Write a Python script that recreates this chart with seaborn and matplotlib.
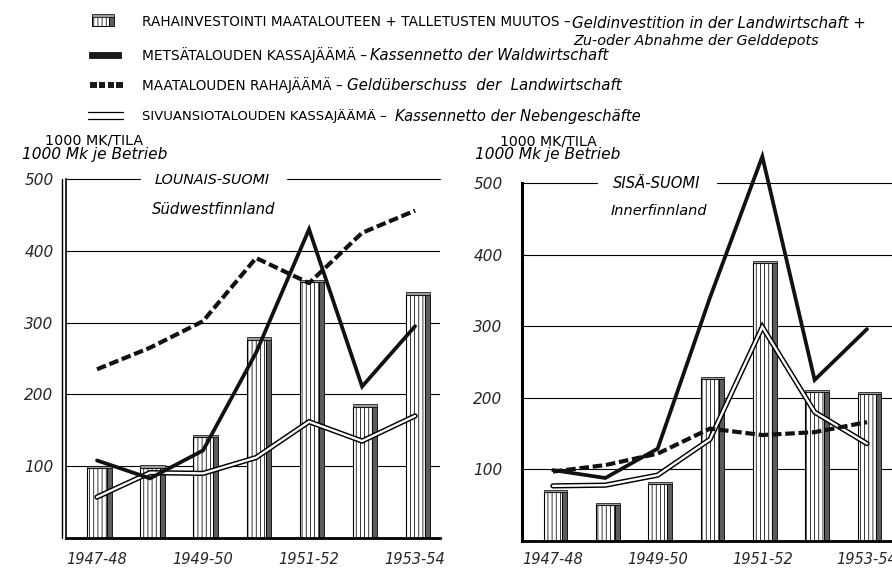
import numpy as np
import matplotlib
matplotlib.use("Agg")
import matplotlib.pyplot as plt
import seaborn as sns
import matplotlib.patheffects as pe
from matplotlib.lines import Line2D
from matplotlib.patches import Rectangle

# ---------------- data ----------------
periods = ["1947-48", "1948-49", "1949-50", "1950-51", "1951-52", "1952-53", "1953-54"]
shown_ticks = ["1947-48", "1949-50", "1951-52", "1953-54"]
y_ticks = [100, 200, 300, 400, 500]

# Lounais-Suomi / Südwestfinnland
sw_invest = [97, 98, 140, 276, 356, 183, 339]
sw_forest = [108, 83, 122, 258, 430, 211, 295]
sw_agri = [235, 265, 302, 390, 355, 425, 456]
sw_side = [57, 91, 90, 112, 162, 135, 170]

# Sisä-Suomi / Innerfinnland
in_invest = [68, 50, 79, 226, 388, 208, 205]
in_forest = [99, 88, 129, 340, 537, 225, 296]
in_agri = [97, 106, 122, 157, 148, 152, 166]
in_side = [77, 78, 92, 142, 299, 180, 136]

# ---------------- style ----------------
sns.set_theme(style="white")
plt.rcParams["font.family"] = ["DejaVu Sans"]
plt.rcParams["hatch.linewidth"] = 0.55

W, H = 892, 571
fig = plt.figure(figsize=(W / 100, H / 100), dpi=100)
renderer = fig.canvas.get_renderer()


def fx(x):
    return x / W


def fy(y):
    return 1 - y / H


def put(x0, x1, y, s, italic=False, max_size=None):
    t = fig.text(fx(x0), fy(y), s, fontsize=10, color="black",
                 style="italic" if italic else "normal", ha="left", va="center")
    w = t.get_window_extent(renderer).width
    size = 10 * (x1 - x0) / w
    if max_size is not None and size > max_size:
        size = max_size
    t.set_fontsize(size)
    return t


FACE_W = 0.36
SIDE_W = 0.095


def panel(rect, xlim, inv, forest, agri, side, title, sub, title_px, sub_px,
          gap, unit_px, ytick_pad, xtick_pad, double_axis):
    x0, ytop, x1, ybot = rect
    ax = fig.add_axes([fx(x0), fy(ybot), (x1 - x0) / W, (ybot - ytop) / H])
    ax.set_facecolor("white")
    pos = np.arange(len(periods))

    # bars: hatched front face via seaborn, dark side + cap on the same scale
    sns.barplot(x=periods, y=inv, ax=ax, width=FACE_W, color="white",
                saturation=1, edgecolor="black", linewidth=0.8, hatch="||||",
                zorder=2)
    ax.bar(pos + FACE_W / 2 + SIDE_W / 2, inv, width=SIDE_W, color="#5c5c5c",
           edgecolor="black", linewidth=0.6, zorder=2)
    ax.bar(pos + SIDE_W / 2, [3.5] * len(pos), bottom=inv, width=FACE_W + SIDE_W,
           color="#9a9a9a", edgecolor="black", linewidth=0.5, zorder=2.1)

    # lines
    ax.plot(pos, side, color="white", lw=1.7, clip_on=False, zorder=3.5,
            solid_joinstyle="miter",
            path_effects=[pe.Stroke(linewidth=3.8, foreground="black"), pe.Normal()])
    ax.plot(pos, agri, color="#111111", lw=3.0, dashes=(2.3, 0.9),
            dash_capstyle="butt", clip_on=False, zorder=4)
    ax.plot(pos, forest, color="#111111", lw=2.7, solid_joinstyle="miter",
            clip_on=False, zorder=4.2)

    ax.set_xlim(*xlim)
    ax.set_ylim(0, 500)

    # grid lines (the top one is interrupted by the region title)
    for v in y_ticks[:-1]:
        ax.axhline(v, color="black", lw=0.8, zorder=0.5)
    tr = ax.get_yaxis_transform()
    ax.plot([0, gap[0]], [500, 500], transform=tr, color="black", lw=0.8,
            clip_on=False, zorder=0.5)
    ax.plot([gap[1], 1], [500, 500], transform=tr, color="black", lw=0.8,
            clip_on=False, zorder=0.5)

    ax.set_yticks(y_ticks)
    ax.set_yticklabels([str(v) for v in y_ticks], fontsize=11, style="italic")
    ax.set_xticks([periods.index(p) for p in shown_ticks])
    ax.set_xticklabels(shown_ticks, fontsize=10.5, style="italic")
    ax.tick_params(axis="y", length=0, pad=ytick_pad)
    ax.tick_params(axis="x", length=0, pad=xtick_pad)
    ax.set_xlabel("")
    ax.set_ylabel("")

    for s in ["top", "right"]:
        ax.spines[s].set_visible(False)
    ax.spines["left"].set_color("black")
    ax.spines["bottom"].set_color("black")
    ax.spines["bottom"].set_linewidth(2.0)
    if double_axis:
        ax.spines["left"].set_linewidth(1.2)
        ax.plot([-0.012, -0.012], [0, 1], transform=ax.transAxes, color="black",
                lw=1.0, clip_on=False)
    else:
        ax.spines["left"].set_linewidth(2.2)

    # titles and unit labels
    put(title_px[0], title_px[1], title_px[2], title, italic=True)
    put(sub_px[0], sub_px[1], sub_px[2], sub, italic=True)
    put(unit_px[0], unit_px[1], unit_px[2], "1000 MK/TILA")
    put(unit_px[3], unit_px[4], unit_px[5], "1000 Mk je Betrieb", italic=True)
    return ax


panel((66, 179, 440, 538), (-0.585, 6.47), sw_invest, sw_forest, sw_agri, sw_side,
      "LOUNAIS-SUOMI", "Südwestfinnland", (155, 270, 180), (152, 275, 209),
      (0.198, 0.591), (45, 143, 140, 22, 167, 155), 9, 10, True)
panel((522, 183, 892, 541), (-0.592, 6.478), in_invest, in_forest, in_agri, in_side,
      "SISÄ-SUOMI", "Innerfinnland", (613, 700, 183), (611, 707, 211),
      (0.203, 0.527), (500, 597, 141, 475, 620, 155), 14, 8, False)

# ---------------- legend ----------------
def rect(x0, y0, x1, y1, **kw):
    fig.add_artist(Rectangle((fx(x0), fy(y1)), (x1 - x0) / W, (y1 - y0) / H,
                             transform=fig.transFigure, **kw))

# row 1: hatched bar icon
rect(92, 16, 109, 26, facecolor="white", edgecolor="black", lw=0.7, hatch="||||")
rect(109, 16, 114, 26, facecolor="#5c5c5c", edgecolor="black", lw=0.6)
rect(92, 14, 114, 16.5, facecolor="#9a9a9a", edgecolor="black", lw=0.5)
put(142, 568, 22, "RAHAINVESTOINTI MAATALOUTEEN + TALLETUSTEN MUUTOS –")
put(572, 865, 24, "Geldinvestition in der Landwirtschaft +", italic=True, max_size=10.8)
put(573, 818, 41, "Zu-oder Abnahme der Gelddepots", italic=True, max_size=10.8)

# row 2: solid
rect(89, 52, 121, 58, facecolor="#1a1a1a", edgecolor="black", lw=0.5)
put(142, 367, 55, "METSÄTALOUDEN KASSAJÄÄMÄ –")
put(370, 615, 56, "Kassennetto der Waldwirtschaft", italic=True, max_size=10.8)

# row 3: dashed squares
for i in range(4):
    rect(90 + i * 8.8, 82, 96.5 + i * 8.8, 88, facecolor="#1a1a1a", edgecolor="none")
put(142, 343, 85, "MAATALOUDEN RAHAJÄÄMÄ –")
put(347, 625, 86, "Geldüberschuss  der  Landwirtschaft", italic=True, max_size=10.8)

# row 4: double line
for yy in (112.5, 118.5):
    fig.add_artist(Line2D([fx(88), fx(123)], [fy(yy), fy(yy)],
                          transform=fig.transFigure, color="black", lw=0.9))
put(142, 388, 116, "SIVUANSIOTALOUDEN KASSAJÄÄMÄ –")
put(395, 640, 117, "Kassennetto der Nebengeschäfte", italic=True, max_size=10.8)

fig.savefig("out.png", dpi=100, facecolor="white")
